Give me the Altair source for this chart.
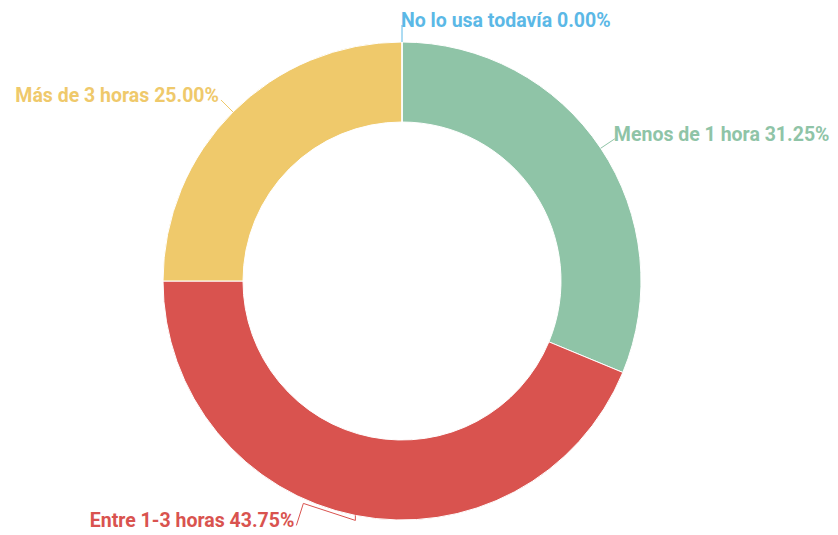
import math
import altair as alt
import pandas as pd

# ---- data ----
categories = ["Menos de 1 hora", "Entre 1-3 horas", "Más de 3 horas", "No lo usa todavía"]
percentages = [31.25, 43.75, 25.00, 0.00]
colors = ["#8fc4a7", "#d9534f", "#efc96b", "#5bb8e6"]

# ---- layout (style) ----
W, H = 822, 527
CX, CY = 394, 273          # donut centre inside the plot area
R_OUT, R_IN = 239, 159
LEN1 = 17                  # radial leader length
FONT = "Roboto"
FSIZE = 19.5
# custom leader shape for the bottom label (offsets from the arc anchor)
leader_override = {"Entre 1-3 horas": [(0, 0), (0, 5), (-52, -12), (-59, 10)]}

labels = [f"{c} {p:.2f}%" for c, p in zip(categories, percentages)]
total = sum(percentages)

arc_df = pd.DataFrame({"cat": categories, "value": percentages,
                       "idx": list(range(len(categories)))})

line_rows, text_rows = [], []
cum = 0.0
for i, (c, p, lab) in enumerate(zip(categories, percentages, labels)):
    mid = (cum + p / 2) / total * 2 * math.pi
    cum += p
    s, co = math.sin(mid), math.cos(mid)
    ax, ay = CX + R_OUT * s, CY - R_OUT * co
    if c in leader_override:
        pts = [(ax + dx, ay + dy) for dx, dy in leader_override[c]]
    else:
        pts = [(ax, ay), (CX + (R_OUT + LEN1) * s, CY - (R_OUT + LEN1) * co)]
    for k, (px, py) in enumerate(pts):
        line_rows.append({"cat": c, "seq": k, "px": px, "py": py})
    side = "left" if s > -1e-6 else "right"
    ex, ey = pts[-1]
    text_rows.append({"cat": c, "label": lab, "tx": ex + (-1 if side == "left" else -2),
                      "ty": ey + 2, "side": side})

line_df = pd.DataFrame(line_rows)
text_df = pd.DataFrame(text_rows)

color_scale = alt.Scale(domain=categories, range=colors)

donut = alt.Chart(arc_df).mark_arc(
    innerRadius=R_IN, outerRadius=R_OUT, stroke="white", strokeWidth=1
).encode(
    theta=alt.Theta("value:Q", stack=True),
    color=alt.Color("cat:N", scale=color_scale, legend=None),
    order=alt.Order("idx:Q"),
    x=alt.value(CX),
    y=alt.value(CY),
)

leaders = alt.Chart(line_df).mark_line(strokeWidth=1).encode(
    x=alt.X("px:Q", scale=None, axis=None),
    y=alt.Y("py:Q", scale=None, axis=None),
    detail="cat:N",
    order=alt.Order("seq:Q"),
    color=alt.Color("cat:N", scale=color_scale, legend=None),
)

def text_layer(side):
    return alt.Chart(text_df).transform_filter(
        alt.datum.side == side
    ).mark_text(
        align=side, baseline="alphabetic", font=FONT, fontSize=FSIZE, fontWeight="bold"
    ).encode(
        x=alt.X("tx:Q", scale=None, axis=None),
        y=alt.Y("ty:Q", scale=None, axis=None),
        text="label:N",
        color=alt.Color("cat:N", scale=color_scale, legend=None),
    )

chart = alt.layer(donut, leaders, text_layer("left"), text_layer("right")).properties(
    width=W, height=H, padding=0, autosize=alt.AutoSizeParams(type="none")
).configure_view(stroke=None)

chart.save("out.html", embed_options={"renderer": "svg", "actions": False})
